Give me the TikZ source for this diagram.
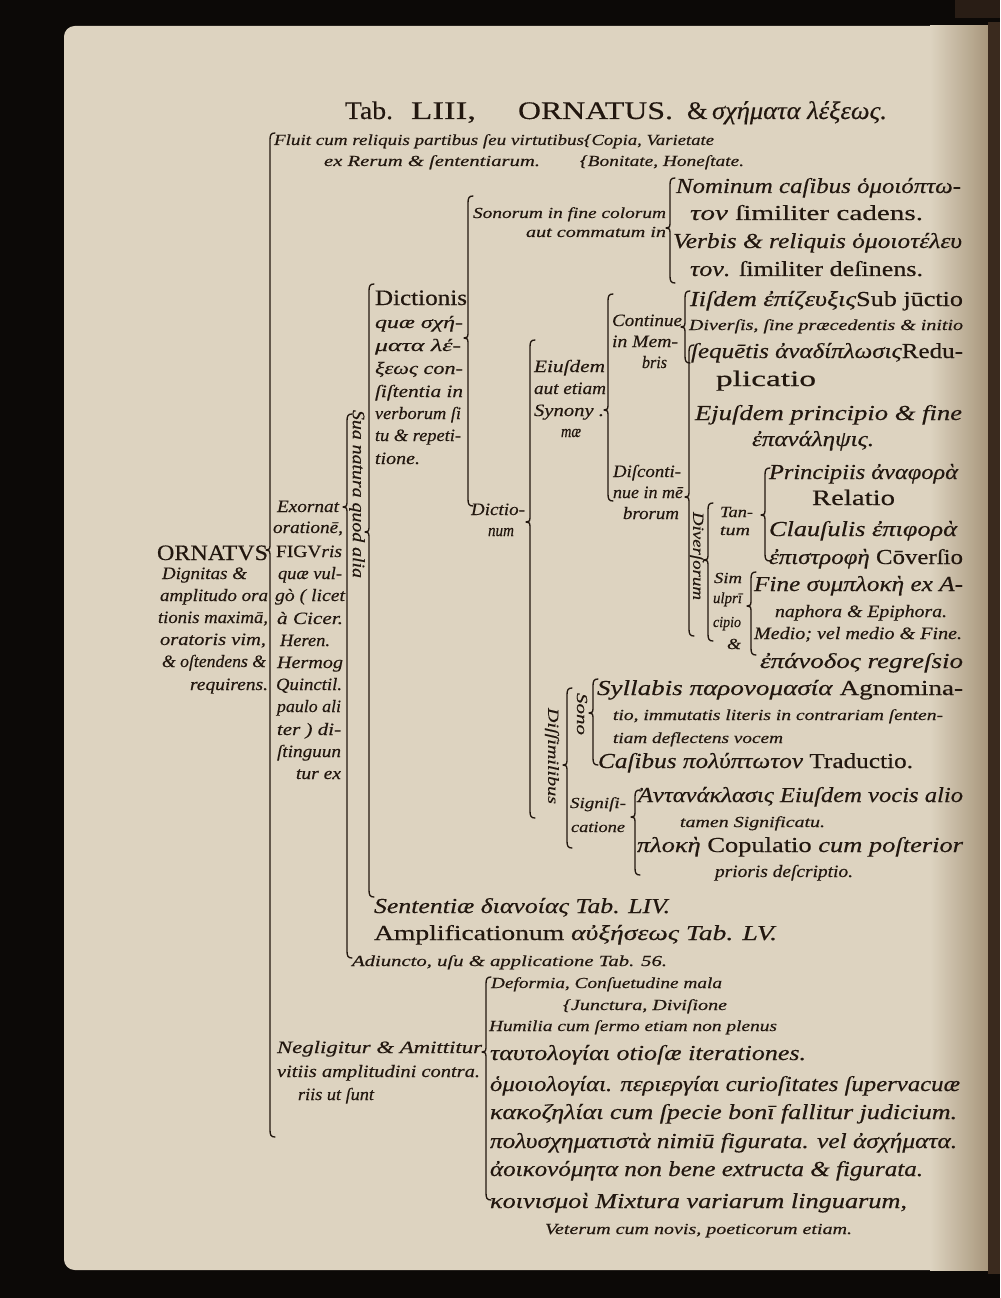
\documentclass[tikz,border=0pt]{standalone}
\usepackage{fontspec}
\setmainfont{Liberation Serif}[FakeBold=0.35]
\usepackage{graphicx}
\newdimen\pxu \pxu=0.75pt
\definecolor{ink}{HTML}{22170F}
\definecolor{pagec}{HTML}{DDD3C0}
\definecolor{pagedark}{HTML}{A8977C}
\definecolor{edgec}{HTML}{3A2A1E}
\definecolor{bgc}{HTML}{0C0907}
\newcommand\fA{\fontsize{11.5}{12}\selectfont\itshape}
\newcommand\fB{\fontsize{13}{14}\selectfont\itshape}
\newcommand\fC{\fontsize{16}{17}\selectfont\itshape}
\newcommand\fR{\fontsize{16.5}{17}\selectfont\upshape}
\newcommand\fT{\fontsize{19}{20}\selectfont\upshape}
\tikzset{
  txt/.style={anchor=base west,inner sep=0pt,outer sep=0pt,text=ink},
  vtxt/.style={anchor=center,inner sep=0pt,outer sep=0pt,text=ink,rotate=-90},
  brk/.style={draw=ink,line width=1pt,line cap=round,line join=round}
}
\newcommand\linetxt[6]{\node[txt,font=#5] (#1) at (#2,#3) {\resizebox{\dimexpr#4\pxu\relax}{\height}{#6}};}
\newcommand\verttxt[6]{\node[vtxt,font=#5] (#1) at (#2,#3) {\resizebox{\dimexpr#4\pxu\relax}{\height}{#6}};}
\newcommand\brk[4]{\draw[brk] ({#1+5},#2) .. controls ({#1+1},#2) and (#1,{#2+2}) .. (#1,{#2+7})
  -- (#1,{#4-4}) .. controls (#1,{#4-1}) .. ({#1-4},#4) .. controls (#1,{#4+1}) .. (#1,{#4+4})
  -- (#1,{#3-7}) .. controls (#1,{#3-2}) and ({#1+1},#3) .. ({#1+5},#3);}
\begin{document}
\begin{tikzpicture}[x=0.75pt,y=-0.75pt]
\useasboundingbox (0,0) rectangle (1000,1298);
% background and page
\fill[bgc] (0,0) rectangle (1000,1298);
\fill[pagec,rounded corners=8pt] (64,26) rectangle (995,1270);
\shade[left color=pagec,right color=pagedark] (930,26) rectangle (988,1270);
\fill[edgec] (988,22) rectangle (1000,1274);
\fill[edgec!70!black] (955,0) rectangle (1000,18);

% title
\linetxt{ti1}{345}{119}{48}{\fT}{Tab.}
\linetxt{ti2}{411}{119}{65}{\fT}{LIII,}
\linetxt{ti3}{518}{119}{155}{\fT}{ORNATUS.}
\linetxt{ti4}{687}{119}{200}{\fT}{\&\,\textit{σχήματα λέξεως.}}

% main bracket
\brk{270}{133}{1137}{550}

% Fluit
\linetxt{fl1}{274}{145}{310}{\fA}{Fluit cum reliquis partibus ſeu virtutibus}
\linetxt{fl2}{584}{145}{130}{\fA}{\{Copia, Varietate}
\linetxt{fl3}{324}{166}{216}{\fA}{ex Rerum \& ſententiarum.}
\linetxt{fl4}{580}{166}{164}{\fA}{\{Bonitate, Honeſtate.}

% Sonorum
\brk{468}{196}{506}{338}
\linetxt{so1}{473}{218}{193}{\fA}{Sonorum in fine colorum}
\linetxt{so2}{526}{237}{140}{\fA}{aut commatum in}
\brk{670}{178}{283}{228}
\linetxt{no1}{676}{193}{285}{\fC}{Nominum caſibus ὁμοιόπτω-}
\linetxt{no2}{690}{220}{233}{\fC}{τον \textup{ſimiliter cadens.}}
\linetxt{no3}{673}{248}{289}{\fC}{Verbis \& reliquis ὁμοιοτέλευ}
\linetxt{no4}{690}{276}{233}{\fC}{τον. \textup{ſimiliter deſinens.}}

% Dictionis column
\brk{369}{284}{897}{532}
\linetxt{di1}{375}{305}{92}{\fR}{Dictionis}
\linetxt{di2}{375}{328}{88}{\fB}{quæ σχή-}
\linetxt{di3}{375}{351}{86}{\fB}{ματα λέ-}
\linetxt{di4}{375}{374}{88}{\fB}{ξεως con-}
\linetxt{di5}{375}{397}{88}{\fB}{ſiſtentia in}
\linetxt{di6}{375}{419}{86}{\fB}{verborum ſi}
\linetxt{di7}{375}{441}{86}{\fB}{tu \& repeti-}
\linetxt{di8}{375}{464}{45}{\fB}{tione.}
\verttxt{sua}{357}{494}{168}{\fB}{Sua natura quod alia}

% Exornat column
\brk{347}{414}{958}{507}
\linetxt{ex1}{277}{512}{62}{\fB}{Exornat}
\linetxt{ex2}{273}{533}{70}{\fB}{orationē,}
\linetxt{ex3}{276}{557}{66}{\fB}{\textup{FIGV}ris}
\linetxt{ex4}{278}{579}{64}{\fB}{quæ vul-}
\linetxt{ex5}{275}{601}{70}{\fB}{gò ( licet}
\linetxt{ex6}{277}{624}{66}{\fB}{à Cicer.}
\linetxt{ex7}{280}{646}{50}{\fB}{Heren.}
\linetxt{ex8}{277}{668}{66}{\fB}{Hermog}
\linetxt{ex9}{276}{690}{66}{\fB}{Quinctil.}
\linetxt{ex10}{277}{712}{64}{\fB}{paulo ali}
\linetxt{ex11}{277}{735}{64}{\fB}{ter ) di-}
\linetxt{ex12}{277}{757}{64}{\fB}{ſtinguun}
\linetxt{ex13}{296}{779}{45}{\fB}{tur ex}

% ORNATVS
\linetxt{or1}{157}{560}{111}{\fR}{ORNATVS}
\linetxt{or2}{162}{579}{85}{\fB}{Dignitas \&}
\linetxt{or3}{160}{601}{108}{\fB}{amplitudo ora}
\linetxt{or4}{158}{623}{110}{\fB}{tionis maximā,}
\linetxt{or5}{160}{645}{106}{\fB}{oratoris vim,}
\linetxt{or6}{162}{667}{104}{\fB}{\& oſtendens \&}
\linetxt{or7}{190}{690}{78}{\fB}{requirens.}

% Dictionum
\linetxt{dn1}{471}{515}{54}{\fB}{Dictio-}
\linetxt{dn2}{488}{536}{26}{\fB}{num}
\brk{530}{340}{818}{522}
\linetxt{ei1}{534}{372}{71}{\fB}{Eiuſdem}
\linetxt{ei2}{534}{394}{72}{\fB}{aut etiam}
\linetxt{ei3}{534}{416}{70}{\fB}{Synony .}
\linetxt{ei4}{561}{437}{20}{\fB}{mæ}
\brk{608}{294}{501}{410}
\linetxt{co1}{612}{326}{70}{\fB}{Continue}
\linetxt{co2}{612}{347}{66}{\fB}{in Mem-}
\linetxt{co3}{642}{368}{25}{\fB}{bris}
\linetxt{dc1}{613}{477}{68}{\fB}{Diſconti-}
\linetxt{dc2}{613}{498}{70}{\fB}{nue in mē}
\linetxt{dc3}{623}{519}{56}{\fB}{brorum}

% Continue
\brk{685}{291}{363}{327}
\linetxt{is1}{690}{306}{273}{\fC}{Iiſdem ἐπίζευξις\textup{Sub jūctio}}
\linetxt{is2}{689}{330}{274}{\fA}{Diverſis, ſine præcedentis \& initio}
\linetxt{is3}{691}{358}{272}{\fC}{ſequētis ἀναδίπλωσις\textup{Redu-}}
\linetxt{is4}{716}{386}{100}{\fR}{plicatio}

% Discontinue
\brk{689}{345}{636}{497}
\linetxt{ej1}{695}{420}{267}{\fC}{Ejuſdem principio \& fine}
\linetxt{ej2}{752}{446}{122}{\fC}{ἐπανάληψις.}
\verttxt{dv}{697}{556}{88}{\fA}{Diverſorum}
\brk{708}{503}{641}{560}
\linetxt{tn1}{720}{517}{33}{\fA}{Tan-}
\linetxt{tn2}{720}{535}{30}{\fA}{tum}
\linetxt{sm1}{714}{583}{28}{\fA}{Sim}
\linetxt{sm2}{713}{603}{29}{\fA}{ulprī}
\linetxt{sm3}{713}{627}{28}{\fA}{cipio}
\linetxt{sm4}{727}{649}{14}{\fA}{\&}
\brk{765}{468}{561}{515}
\linetxt{pr1}{769}{479}{189}{\fC}{Principiis ἀναφορὰ}
\linetxt{pr2}{812}{505}{83}{\fR}{Relatio}
\linetxt{pr3}{769}{536}{188}{\fC}{Clauſulis ἐπιφορὰ}
\linetxt{pr4}{769}{564}{194}{\fC}{ἐπιστροφὴ \textup{Cōverſio}}
\brk{751}{572}{655}{606}
\linetxt{fi1}{754}{591}{209}{\fC}{Fine συμπλοκὴ ex A-}
\linetxt{fi2}{775}{617}{172}{\fB}{naphora \& Epiphora.}
\linetxt{fi3}{754}{639}{208}{\fB}{Medio; vel medio \& Fine.}
\linetxt{fi4}{760}{668}{203}{\fC}{ἐπάνοδος regreſsio}

% Dissimilibus
\verttxt{ds}{552}{756}{96}{\fA}{Diſſimilibus}
\brk{567}{688}{848}{765}
\verttxt{sn}{582}{714}{42}{\fA}{Sono}
\brk{593}{679}{765}{713}
\linetxt{sy1}{597}{695}{366}{\fC}{Syllabis παρονομασία \textup{Agnomina-}}
\linetxt{sy2}{613}{720}{330}{\fA}{tio, immutatis literis in contrariam ſenten-}
\linetxt{sy3}{613}{743}{170}{\fA}{tiam deflectens vocem}
\linetxt{sy4}{598}{768}{315}{\fC}{Caſibus πολύπτωτον \textup{Traductio.}}
\linetxt{sg1}{570}{808}{56}{\fA}{Signiſi-}
\linetxt{sg2}{571}{832}{54}{\fA}{catione}
\brk{635}{790}{875}{817}
\linetxt{an1}{638}{802}{325}{\fC}{Ἀντανάκλασις Eiuſdem vocis alio}
\linetxt{an2}{680}{827}{145}{\fA}{tamen Significatu.}
\linetxt{an3}{637}{852}{326}{\fC}{πλοκὴ \textup{Copulatio} cum poſterior}
\linetxt{an4}{715}{877}{138}{\fB}{prioris deſcriptio.}

% lower part
\linetxt{se1}{374}{913}{296}{\fC}{Sententiæ διανοίας Tab. LIV.}
\linetxt{am1}{374}{940}{403}{\fC}{\textup{Amplificationum} αὐξήσεως Tab. LV.}
\linetxt{ad1}{352}{966}{315}{\fA}{Adiuncto, uſu \& applicatione Tab. 56.}
\brk{486}{977}{1200}{1052}
\linetxt{de1}{491}{988}{231}{\fA}{Deformia, Conſuetudine mala}
\linetxt{de2}{563}{1010}{164}{\fA}{\{Junctura, Diviſione}
\linetxt{hu1}{489}{1031}{288}{\fA}{Humilia cum ſermo etiam non plenus}
\linetxt{ne1}{277}{1053}{205}{\fB}{Negligitur \& Amittitur}
\linetxt{ne2}{277}{1077}{203}{\fB}{vitiis amplitudini contra.}
\linetxt{ne3}{298}{1100}{76}{\fB}{riis ut ſunt}
\linetxt{ty1}{490}{1060}{316}{\fC}{ταυτολογίαι otioſæ iterationes.}
\linetxt{om1}{490}{1091}{470}{\fC}{ὁμοιολογίαι. περιεργίαι curioſitates ſupervacuæ}
\linetxt{ka1}{490}{1119}{467}{\fC}{κακοζηλίαι cum ſpecie bonī fallitur judicium.}
\linetxt{po1}{490}{1148}{467}{\fC}{πολυσχηματιστὰ nimiū figurata. vel ἀσχήματα.}
\linetxt{ao1}{490}{1176}{433}{\fC}{ἀοικονόμητα non bene extructa \& figurata.}
\linetxt{ko1}{490}{1208}{417}{\fC}{κοινισμοὶ Mixtura variarum linguarum,}
\linetxt{ve1}{545}{1234}{307}{\fA}{Veterum cum novis, poeticorum etiam.}
\end{tikzpicture}
\end{document}
